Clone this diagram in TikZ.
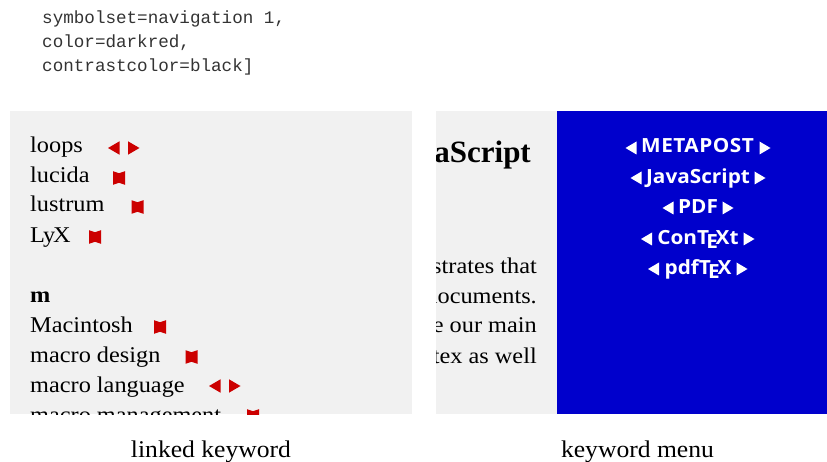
\documentclass[tikz,border=0pt]{standalone}
\usepackage{fontspec}
\setmainfont{Liberation Serif}
\newfontfamily\wideserif[FakeStretch=1.08]{Liberation Serif}
\newfontfamily\capserif[FakeStretch=1.067]{Liberation Serif}
\newfontfamily\monof{Liberation Mono}
\newfontfamily\sansf[FakeStretch=1.065]{Open Sans}
\definecolor{panelgray}{HTML}{F1F1F1}
\definecolor{darkred}{HTML}{CC0000}
\definecolor{menublue}{HTML}{0000CC}
\newcommand{\lefttri}[2]{\fill[darkred] (#1,#2) -- ++(11.5,-6.7) -- ++(0,13.4) -- cycle;}
\newcommand{\righttri}[2]{\fill[darkred] (#1,#2) -- ++(-11.5,-6.7) -- ++(0,13.4) -- cycle;}
\newcommand{\bowmark}[2]{\fill[darkred] (#1-6,#2-6.8) -- (#1,#2-4.8) -- (#1+6,#2-6.8) -- (#1+6,#2+6.8) -- (#1,#2+4.8) -- (#1-6,#2+6.8) -- cycle;}
\newcommand{\menutri}[3]{\fill[white] (#1,#3) -- ++(#2*11,-6.5) -- ++(0,13) -- cycle;}
\tikzset{
  x=1pt,y=-1pt,
  codeline/.style={anchor=base west,inner sep=0,font=\monof\fontsize{17.6}{20}\selectfont,text=black!80},
  keyword/.style={anchor=base west,inner sep=0,font=\wideserif\fontsize{22.5}{26}\selectfont,text=black},
  keyhead/.style={anchor=base west,inner sep=0,font=\wideserif\bfseries\fontsize{22.5}{26}\selectfont,text=black},
  caption/.style={anchor=base,inner sep=0,font=\capserif\fontsize{24}{28}\selectfont,text=black},
  bodyline/.style={anchor=base east,inner sep=0,font=\wideserif\fontsize{22.5}{26}\selectfont,text=black},
  titleline/.style={anchor=base east,inner sep=0,font=\bfseries\fontsize{31}{36}\selectfont,text=black},
  menuitem/.style={anchor=base,inner sep=0,font=\sansf\bfseries\fontsize{19.5}{24}\selectfont,text=white},
}
\newcommand{\TXE}{T\kern-0.14em\raisebox{-0.2em}{E}\kern-0.12em X}
\begin{document}
\begin{tikzpicture}
\useasboundingbox (0,0) rectangle (827,462);
\node[codeline] (c1) at (42,24) {symbolset=navigation 1,};
\node[codeline] (c2) at (42,48) {color=darkred,};
\node[codeline] (c3) at (42,72) {contrastcolor=black]};
% left panel
\fill[panelgray] (10,111) rectangle (412,414);
\begin{scope}
\clip (10,111) rectangle (412,414);
\node[keyword] (k1) at (30,153) {loops};
\node[keyword] (k2) at (30,183) {lucida};
\node[keyword] (k3) at (30,212) {lustrum};
\node[keyword] (k4) at (30,243) {L\kern-2pt y\kern-2pt X};
\node[keyhead] (k5) at (30,302) {m};
\node[keyword] (k6) at (30,332) {Macintosh};
\node[keyword] (k7) at (30,362) {macro design};
\node[keyword] (k8) at (30,392) {macro language};
\node[keyword] (k9) at (30,422) {macro management};
\lefttri{108}{148}\righttri{139.5}{148}
\bowmark{119}{178}
\bowmark{137.5}{207}
\bowmark{95}{237}
\bowmark{160}{327}
\bowmark{191.5}{357}
\lefttri{209}{386}\righttri{240.5}{386}
\bowmark{253}{416}
\end{scope}
% right panel
\fill[panelgray] (436,111) rectangle (557,414);
\begin{scope}
\clip (436,111) rectangle (557,414);
\node[titleline] (t) at (531,163) {JavaScript};
\node[bodyline] (b1) at (537,273) {illustrates that};
\node[bodyline] (b2) at (537,303) {documents.};
\node[bodyline] (b3) at (537,332) {use our main};
\node[bodyline] (b4) at (537,363) {pdftex as well};
\end{scope}
\fill[menublue] (557,111) rectangle (827,414);
\node[menuitem] (m1) at (697.5,153) {\addfontfeature{LetterSpace=2.5}METAPOST};
\node[menuitem] (m2) at (698,184) {JavaScript};
\node[menuitem] (m3) at (698,214) {PDF};
\node[menuitem] (m4) at (698,245) {Con\TXE t};
\node[menuitem] (m5) at (698,275) {pdf\TXE};
\menutri{625.5}{1}{148}\menutri{770.5}{-1}{148}
\menutri{630.5}{1}{178}\menutri{765.5}{-1}{178}
\menutri{662.5}{1}{208}\menutri{733.5}{-1}{208}
\menutri{641}{1}{239}\menutri{754.5}{-1}{239}
\menutri{648}{1}{269}\menutri{747.5}{-1}{269}
\node[caption] (cap1) at (211,457) {linked keyword};
\node[caption] (cap2) at (637.5,457) {keyword menu};
\end{tikzpicture}
\end{document}
